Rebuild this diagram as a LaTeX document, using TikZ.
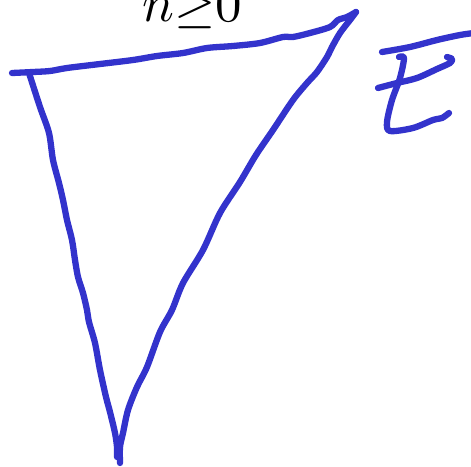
\documentclass[tikz,border=0pt]{standalone}
\definecolor{ink}{RGB}{51,51,204}
\tikzset{
  pen/.style={draw=ink, line width=6.3pt, line cap=round, line join=round},
  label/.style={inner sep=0pt, anchor=base, scale=5.3}
}
\begin{document}
\begin{tikzpicture}[x=1pt,y=-1pt]
\useasboundingbox (0,0) rectangle (471,466);
% label
\node[label] (cond) at (192,21) {$n{\geq}0$};
% top edge
\draw[pen] plot[smooth, tension=0.5] coordinates {
  (12,73) (33,72) (50,71) (67,68) (100,64) (133,60) (157,56) (183,53)
  (207,48) (233,46) (260,43) (283,37) (293,37) (310,33) (330,27) (338,20)
  (347,17) (356,12)};
% right edge
\draw[pen] plot[smooth, tension=0.5] coordinates {
  (356,12) (350,20) (340,33) (332,47) (327,57) (317,72) (307,83) (293,100)
  (273,130) (256,155) (240,182) (220,213) (203,250) (183,283) (172,310) (160,332)
  (147,367) (137,387) (128,410) (123,433) (120,447) (120,463)};
% left edge
\draw[pen] plot[smooth, tension=0.5] coordinates {
  (29,73) (40,107) (49,133) (53,160) (59,183) (63,200) (67,220) (72,240)
  (75,260) (78,277) (83,293) (87,310) (89,322) (95,343) (100,370) (106,397)
  (110,412) (115,433) (117,447) (117,457)};
% right glyph: top bar
\draw[pen] plot[smooth, tension=0.5] coordinates {
  (382,52) (410,47) (437,40) (460,35) (474,33)};
% middle stroke with curl
\draw[pen] plot[smooth, tension=0.5] coordinates {
  (378,88) (397,83) (417,78) (437,69) (450,63) (452,59) (447,57)};
% vertical stroke and bottom
\draw[pen] plot[smooth, tension=0.5] coordinates {
  (399,57) (404,58) (400,78) (392,100) (387,122) (390,131) (413,128)
  (433,120) (442,118) (449,113)};
\end{tikzpicture}
\end{document}
